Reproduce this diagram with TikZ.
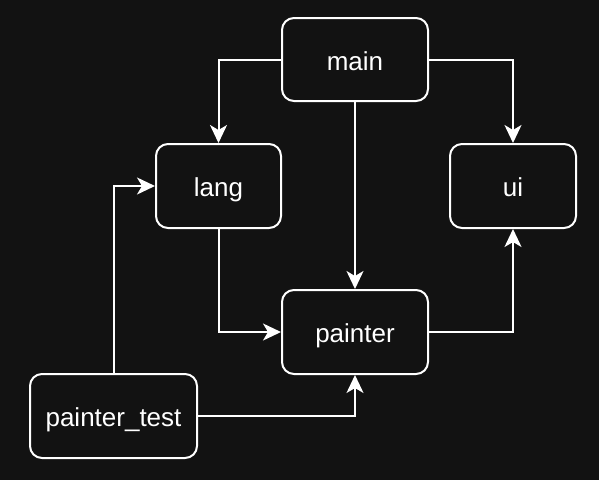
\documentclass[tikz,border=0pt]{standalone}
\usepackage{fontspec}
\setmainfont{Liberation Sans}
\usetikzlibrary{arrows.meta}
\definecolor{bg}{HTML}{121212}
\tikzset{
  box/.style={draw=white, line width=2pt, rounded corners=12pt, fill=bg, text=white,
    font=\fontsize{26}{30}\selectfont, inner sep=0pt, text height=26pt, text depth=5pt},
  conn/.style={draw=white, line width=2pt, -{Stealth[length=18pt,width=17pt,inset=5pt]}}
}
\begin{document}
\begin{tikzpicture}[x=1pt,y=-1pt]
\fill[bg] (0,0) rectangle (599,480);
\useasboundingbox (0,0) rectangle (599,480);
\node[box, minimum width=146pt, minimum height=83pt] (main) at (355,59.5) {main};
\node[box, minimum width=125pt, minimum height=84pt] (lang) at (218.5,186) {lang};
\node[box, minimum width=126pt, minimum height=84pt] (ui) at (513,186) {ui};
\node[box, minimum width=146pt, minimum height=84pt] (painter) at (355,332) {painter};
\node[box, minimum width=167pt, minimum height=84pt] (ptest) at (113.5,416) {painter\_test};
\draw[conn] (main.west) -| (lang.north);
\draw[conn] (main.east) -| (ui.north);
\draw[conn] (main.south) -- (painter.north);
\draw[conn] (lang.south) |- (painter.west);
\draw[conn] (painter.east) -| (ui.south);
\draw[conn] (ptest.north) |- (lang.west);
\draw[conn] (ptest.east) -| (painter.south);
\end{tikzpicture}
\end{document}
